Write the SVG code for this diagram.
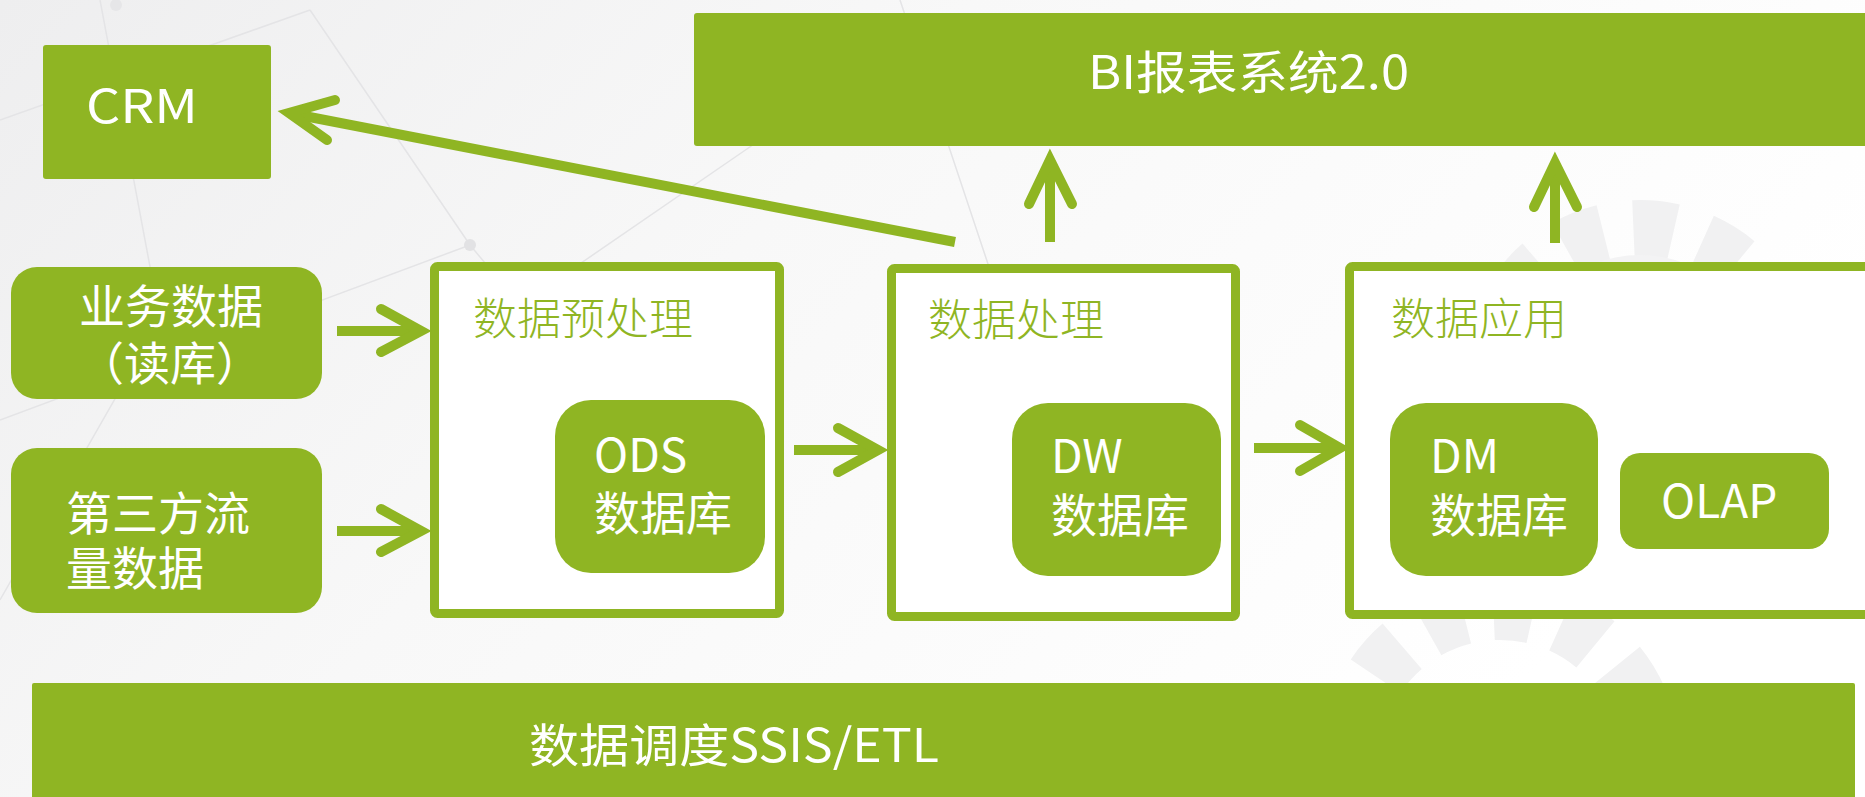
<svg xmlns="http://www.w3.org/2000/svg" width="1865" height="797" viewBox="0 0 1865 797">
<defs>
<linearGradient id="bg" x1="0" y1="0" x2="1" y2="0.4">
<stop offset="0" stop-color="#eeeeef"/>
<stop offset="0.45" stop-color="#f8f8f8"/>
<stop offset="1" stop-color="#ffffff"/>
</linearGradient>
<style>
.fill{fill:#8fb523}
.frame{fill:#ffffff;stroke:#8fb523;stroke-width:9}
.lbl{font-family:"Noto Sans CJK SC","Microsoft YaHei",sans-serif;fill:#ffffff;font-size:46px}
.ttl{font-family:"Noto Sans CJK SC","Microsoft YaHei",sans-serif;fill:#8fb523;font-size:44px;font-weight:300}
.stem{stroke:#8fb523;stroke-width:10;fill:none}
.head{stroke:#8fb523;stroke-width:10;fill:none;stroke-linecap:round;stroke-linejoin:miter}
.deco{stroke:#e4e4e6;stroke-width:1.5;fill:none}
</style>
</defs>
<rect x="0" y="0" width="1865" height="797" fill="url(#bg)"/>
<g id="background">
<path class="deco" d="M0 120 L310 10 M310 10 L470 245 M470 245 L520 305 M470 245 L0 420 M520 305 L760 140 M100 0 L160 320 L0 600 M900 0 L1010 330"/>
<circle cx="470" cy="245" r="6" fill="#e2e2e4"/>
<circle cx="515" cy="305" r="6" fill="#e6e6e8"/>
<circle cx="116" cy="5" r="6" fill="#e6e6e8"/>
<circle cx="1640" cy="380" r="150" fill="none" stroke="#f1f1f2" stroke-width="60" stroke-dasharray="40 30"/>
<circle cx="1640" cy="380" r="105" fill="none" stroke="#f3f3f4" stroke-width="40"/>
<circle cx="1500" cy="760" r="150" fill="none" stroke="#f1f1f2" stroke-width="60" stroke-dasharray="40 30"/>
</g>

<g id="node-crm">
<rect class="fill" x="43" y="45" width="228" height="134" rx="3"/>
<text class="lbl" x="86" y="123" font-size="53" textLength="112" lengthAdjust="spacingAndGlyphs">CRM</text>
</g>
<g id="node-bi">
<rect class="fill" x="694" y="13" width="1180" height="133" rx="3"/>
<text class="lbl" x="1088" y="89" font-size="50" textLength="321" lengthAdjust="spacingAndGlyphs">BI报表系统2.0</text>
</g>
<g id="node-business">
<rect class="fill" x="11" y="267" width="311" height="132" rx="26"/>
<text class="lbl" x="171" y="323" text-anchor="middle">业务数据</text>
<text class="lbl" x="170" y="380" text-anchor="middle">（读库）</text>
</g>
<g id="node-third">
<rect class="fill" x="11" y="448" width="311" height="165" rx="26"/>
<text class="lbl" x="66" y="530">第三方流</text>
<text class="lbl" x="66" y="585">量数据</text>
</g>
<g id="node-preprocess">
<rect class="frame" x="434.5" y="266.5" width="345" height="347" rx="3"/>
<text class="ttl" x="473" y="335">数据预处理</text>
</g>
<g id="node-ods">
<rect class="fill" x="555" y="400" width="210" height="173" rx="36"/>
<text class="lbl" x="594" y="472">ODS</text>
<text class="lbl" x="594" y="530">数据库</text>
</g>
<g id="node-process">
<rect class="frame" x="891.5" y="268.5" width="344" height="348" rx="3"/>
<text class="ttl" x="928" y="336">数据处理</text>
</g>
<g id="node-dw">
<rect class="fill" x="1012" y="403" width="209" height="173" rx="36"/>
<text class="lbl" x="1051" y="473">DW</text>
<text class="lbl" x="1051" y="532">数据库</text>
</g>
<g id="node-apply">
<rect class="frame" x="1349.5" y="266.5" width="520" height="348" rx="3"/>
<text class="ttl" x="1391" y="335">数据应用</text>
</g>
<g id="node-dm">
<rect class="fill" x="1390" y="403" width="208" height="173" rx="36"/>
<text class="lbl" x="1430" y="473">DM</text>
<text class="lbl" x="1430" y="532">数据库</text>
</g>
<g id="node-olap">
<rect class="fill" x="1620" y="453" width="209" height="96" rx="20"/>
<text class="lbl" x="1661" y="518">OLAP</text>
</g>
<g id="node-schedule">
<rect class="fill" x="32" y="683" width="1823" height="120" rx="2"/>
<text class="lbl" x="529" y="762" font-size="52" textLength="410" lengthAdjust="spacingAndGlyphs">数据调度SSIS/ETL</text>
</g>

<g id="connectors">
<path class="stem" d="M955 242 L294 114"/>
<path class="head" d="M335 100 L289 113 L327 140"/>
<path class="stem" d="M1050 242 L1050 162"/>
<path class="head" d="M1029 204 L1050 160 L1072 204"/>
<path class="stem" d="M1555 243 L1555 165"/>
<path class="head" d="M1534 207 L1555 163 L1577 207"/>
<path class="stem" d="M337 331 L419 331"/>
<path class="head" d="M381 309 L421 331 L381 352"/>
<path class="stem" d="M337 531 L419 531"/>
<path class="head" d="M381 509 L421 531 L381 552"/>
<path class="stem" d="M794 450 L876 450"/>
<path class="head" d="M838 428 L878 450 L838 472"/>
<path class="stem" d="M1254 448 L1337 448"/>
<path class="head" d="M1300 425 L1340 448 L1300 471"/>
</g>
</svg>
